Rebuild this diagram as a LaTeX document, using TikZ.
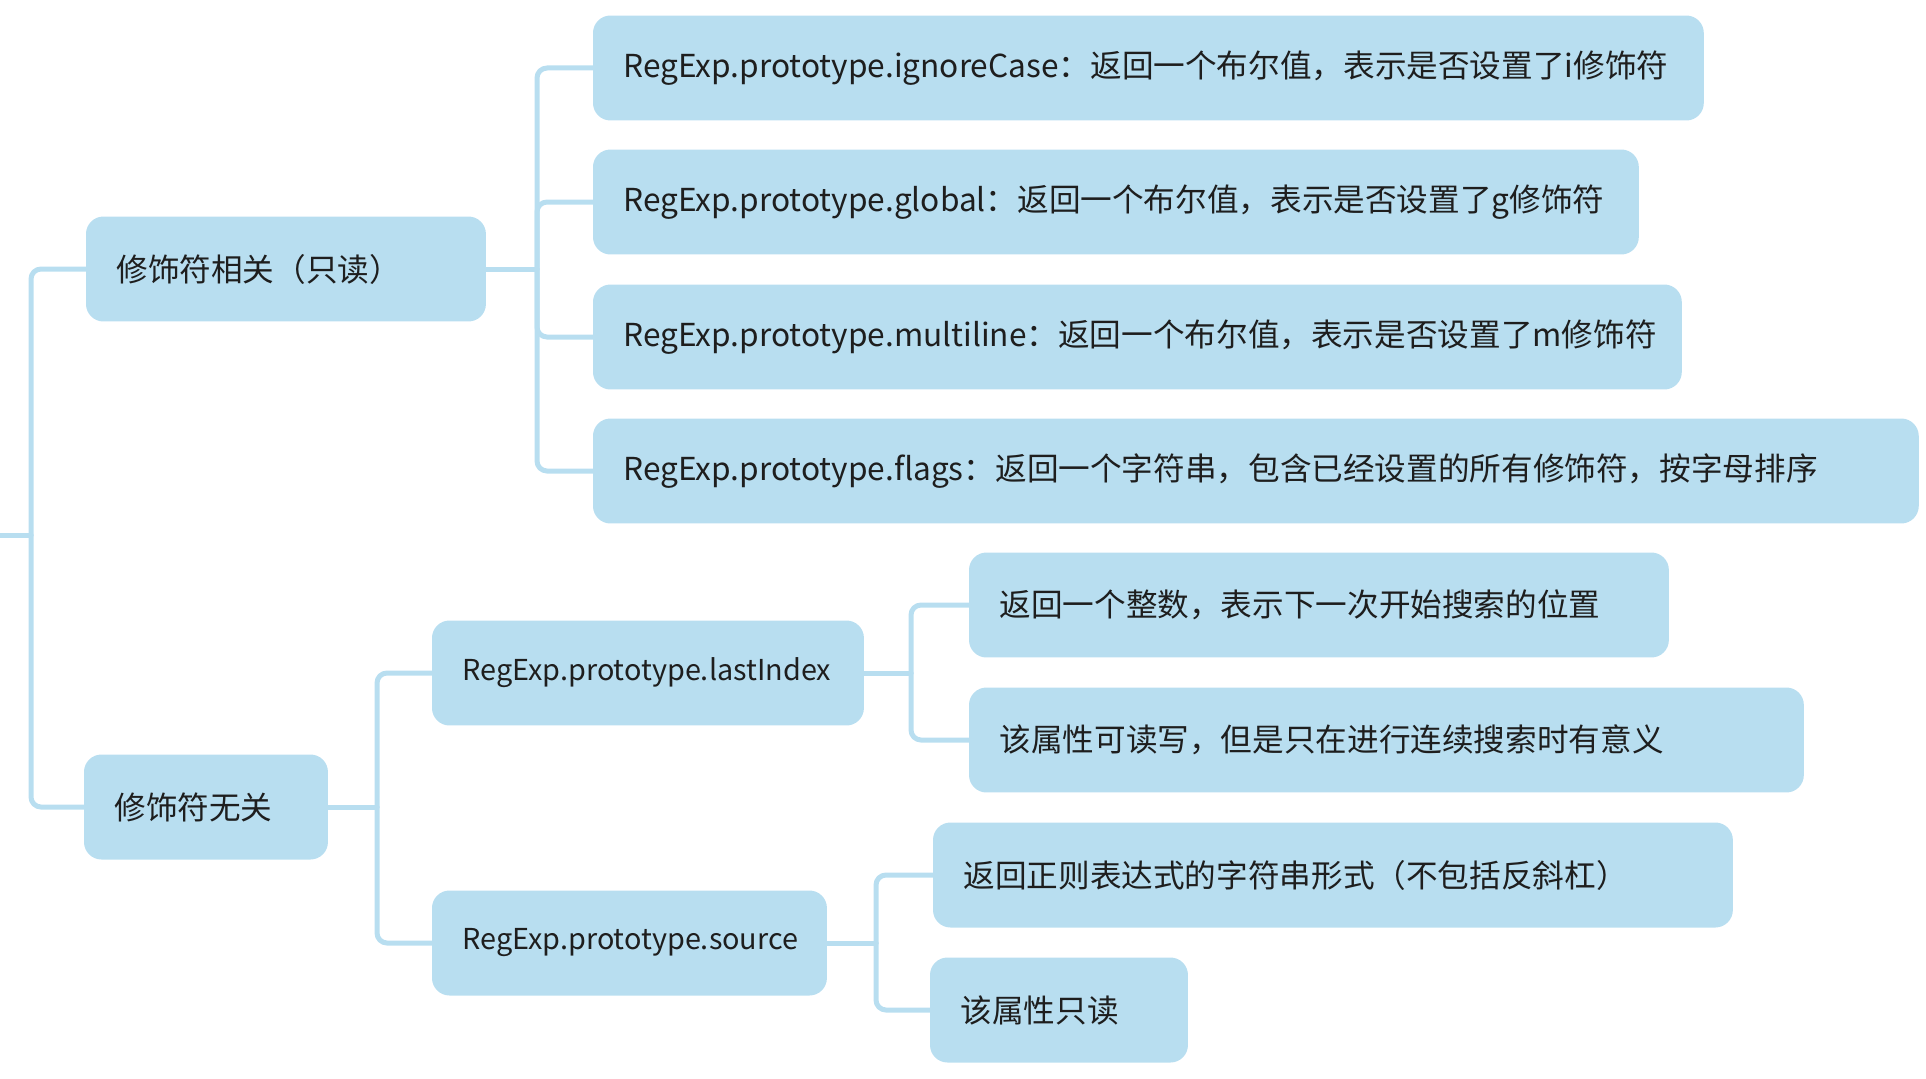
\documentclass[tikz,border=0pt]{standalone}
\usepackage{fontspec}
\setmainfont{Noto Sans CJK SC}
\usepackage{xcolor}
\usetikzlibrary{calc}

\definecolor{mapblue}{RGB}{184,222,240}
\definecolor{inkgrey}{RGB}{30,30,30}

\tikzset{
	topic/.style = {draw = mapblue, fill = mapblue, line width = 0.1cm, rounded corners = 0.3cm,
		minimum height = 2cm, inner xsep = 0.56cm, text width = #1, align = left,
		anchor = west, text = inkgrey, font = \fontsize{18}{22}\selectfont},
	small/.style = {font = \fontsize{16.4}{20}\selectfont},
	link/.style = {draw = mapblue, line width = 0.1cm, rounded corners = 0.2cm, line cap = round},
}

\begin{document}
\begin{tikzpicture}[x = 0.02cm, y = -0.02cm]
			\useasboundingbox (0,0) rectangle (1926,1078);
			
			% first level
			\node [topic = 6.78cm] (rel) at (86,269) {修饰符相关（只读）};
			\node [topic = 3.66cm] (free) at (84,807) {修饰符无关};
			
			% modifier properties
			\node [topic = 21cm] (ign) at (593,68) {RegExp.prototype.ignoreCase：返回一个布尔值，表示是否设置了i修饰符};
			\node [topic = 19.7cm] (glob) at (593,202) {RegExp.prototype.global：返回一个布尔值，表示是否设置了g修饰符};
			\node [topic = 20.56cm] (multi) at (593,337) {RegExp.prototype.multiline：返回一个布尔值，表示是否设置了m修饰符};
			\node [topic = 25.3cm] (flags) at (593,471) {RegExp.prototype.flags：返回一个字符串，包含已经设置的所有修饰符，按字母排序};
			
			% other properties
			\node [topic = 7.42cm, small] (last) at (432,673) {RegExp.prototype.lastIndex};
			\node [topic = 6.68cm, small] (src) at (432,943) {RegExp.prototype.source};
			
			\node [topic = 12.78cm] (lastint) at (969,605) {返回一个整数，表示下一次开始搜索的位置};
			\node [topic = 15.48cm] (lastrw) at (969,740) {该属性可读写，但是只在进行连续搜索时有意义};
			\node [topic = 14.78cm] (srcstr) at (933,875) {返回正则表达式的字符串形式（不包括反斜杠）};
			\node [topic = 3.94cm] (srcro) at (930,1010) {该属性只读};
			
			\coordinate (root) at (0,535);
			\coordinate (trunk) at (31,535);
			\coordinate (relfork) at (537,269);
			\coordinate (freefork) at (377,807);
			\coordinate (lastfork) at (911,673);
			\coordinate (srcfork) at (876,943);
			
			\draw [link] (root) -- (trunk);
			\draw [link] (trunk) |- (rel.west);
			\draw [link] (trunk) |- (free.west);
			
			\draw [link] (rel.east) -- (relfork);
			\foreach \n in {ign, glob, multi, flags}
				\draw [link] (relfork) |- (\n.west);
			
			\draw [link] (free.east) -- (freefork);
			\draw [link] (freefork) |- (last.west);
			\draw [link] (freefork) |- (src.west);
			
			\draw [link] (last.east) -- (lastfork);
			\draw [link] (lastfork) |- (lastint.west);
			\draw [link] (lastfork) |- (lastrw.west);
			
			\draw [link] (src.east) -- (srcfork);
			\draw [link] (srcfork) |- (srcstr.west);
			\draw [link] (srcfork) |- (srcro.west);
		\end{tikzpicture}
\end{document}
